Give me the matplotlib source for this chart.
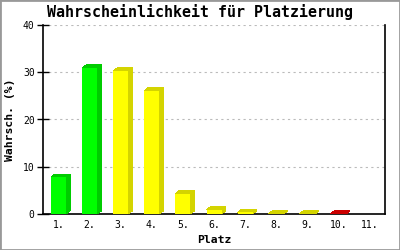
import matplotlib
matplotlib.use('Agg')
import matplotlib.pyplot as plt
from matplotlib.patches import Polygon, Rectangle

plt.rcParams['font.family'] = ['DejaVu Sans Mono']

# Daten
platz = ['1.', '2.', '3.', '4.', '5.', '6.', '7.', '8.', '9.', '10.', '11.']
werte = [7.8, 30.9, 30.3, 26.1, 4.3, 0.9, 0.35, 0.1, 0.1, 0.1, 0.0]
front_farben = ['#00ff00', '#00ff00', '#ffff00', '#ffff00', '#ffff00', '#ffff00',
                '#ffff00', '#ffff00', '#ffff00', '#cc0000', '#cc0000']
seiten_farben = ['#00cc00', '#00cc00', '#d4d400', '#d4d400', '#d4d400', '#d4d400',
                 '#d4d400', '#d4d400', '#d4d400', '#cc0000', '#cc0000']

fig = plt.figure(figsize=(4, 2.5), dpi=100)
ax = fig.add_axes([43 / 400, 36 / 250, 342 / 400, 189 / 250])

n = len(platz)
ax.set_xlim(-0.5, n - 0.5)
ax.set_ylim(0, 40)

# 3D-Versatz in Daten-Einheiten (4px nach rechts, 3px nach oben)
dx = 4 / (342 / n)
dy = 3 / (189 / 40)
breite = 15 / (342 / n)

for i, v in enumerate(werte):
    if v <= 0:
        continue
    l = i - breite / 2
    r = i + breite / 2
    ax.add_patch(Polygon([(r, 0), (r + dx, dy), (r + dx, v + dy), (r, v)],
                         closed=True, facecolor=seiten_farben[i], edgecolor='none',
                         antialiased=False, zorder=3))
    ax.add_patch(Polygon([(l, v), (l + dx, v + dy), (r + dx, v + dy), (r, v)],
                         closed=True, facecolor=seiten_farben[i], edgecolor='none',
                         antialiased=False, zorder=3))
    ax.bar(i, v, width=breite, color=front_farben[i], antialiased=False, zorder=4)

ax.set_yticks([0, 10, 20, 30, 40])
ax.set_xticks(range(n))
ax.set_xticklabels(platz)
ax.tick_params(axis='x', length=0, labelsize=7, pad=4)
ax.tick_params(axis='y', direction='inout', length=8, width=1, labelsize=7, pad=2)
ax.yaxis.grid(True, color='#bbbbbb', linestyle=(0, (2, 3)), linewidth=0.8)
ax.set_axisbelow(True)

ax.spines['top'].set_visible(False)
for s in ['left', 'right', 'bottom']:
    ax.spines[s].set_linewidth(1.2)
    ax.spines[s].set_color('black')

ax.set_xlabel('Platz', fontsize=8.2, fontweight='bold', labelpad=4)
ax.set_ylabel('Wahrsch. (%)', fontsize=8.2, fontweight='bold', labelpad=6)
fig.text(0.5, 1 - 12 / 250, 'Wahrscheinlichkeit für Platzierung', ha='center', va='center',
         fontsize=10.8, fontweight='bold')

# grauer Rahmen
fig.patches.append(Rectangle((0, 0), 1, 1, transform=fig.transFigure, fill=False,
                             edgecolor='#999999', linewidth=2))

fig.savefig('out.png', dpi=100)
